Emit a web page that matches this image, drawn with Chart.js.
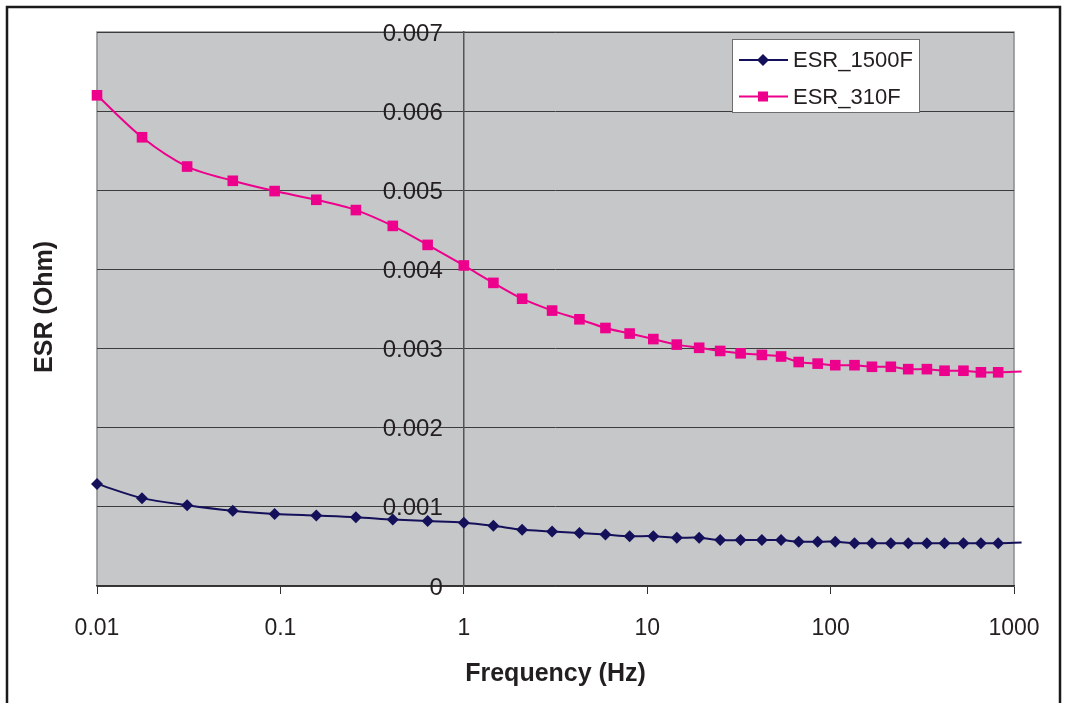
<!DOCTYPE html>
<html>
<head>
<meta charset="utf-8">
<script src="https://cdn.jsdelivr.net/npm/chart.js@4.4.1/dist/chart.umd.min.js"></script>
<style>
  html, body { margin: 0; padding: 0; background: #fff; }
  #wrap { width: 1065px; height: 703px; position: relative; }
</style>
</head>
<body>
<div id="wrap"><canvas id="esr"></canvas></div>
<script>
// frequency points (Hz), last one sits just past the axis end (line stub, no marker)
const freqs = [0.01, 0.0176, 0.031, 0.055, 0.093, 0.157, 0.258, 0.41, 0.635, 1.0,
    1.45, 2.08, 3.03, 4.27, 5.92, 8.02, 10.8, 14.5, 19.2, 25.0,
    32.3, 42.2, 53.7, 67, 85, 106, 135, 168, 213, 265,
    335, 418, 530, 660, 820, 1100];
const esr1500 = [0.00129, 0.00111, 0.00102, 0.00095, 0.00091, 0.00089, 0.00087, 0.00084, 0.00082, 0.00080,
    0.00076, 0.00071, 0.00069, 0.00067, 0.00065, 0.00063, 0.00063, 0.00061, 0.00061, 0.00058,
    0.00058, 0.00058, 0.00058, 0.00056, 0.00056, 0.00056, 0.00054, 0.00054, 0.00054, 0.00054,
    0.00054, 0.00054, 0.00054, 0.00054, 0.00054, 0.00055];
const esr310 = [0.00620, 0.00567, 0.00530, 0.00512, 0.00499, 0.00488, 0.00475, 0.00455, 0.00431, 0.00405,
    0.00383, 0.00363, 0.00348, 0.00337, 0.00326, 0.00319, 0.00312, 0.00305, 0.00301, 0.00297,
    0.00294, 0.00292, 0.00290, 0.00283, 0.00281, 0.00279, 0.00279, 0.00277, 0.00277, 0.00274,
    0.00274, 0.00272, 0.00272, 0.00270, 0.00270, 0.00271];
const seriesNames = ['ESR_1500F', 'ESR_310F'];
const xTicks = [0.01, 0.1, 1, 10, 100, 1000];
const xTickLabels = ['0.01', '0.1', '1', '10', '100', '1000'];
const yTickLabels = ['0', '0.001', '0.002', '0.003', '0.004', '0.005', '0.006', '0.007'];

const NAVY = '#14105a';
const PINK = '#ec008c';
const TEXT = '#231f20';
const FONT = '"Liberation Sans", Arial, sans-serif';
const markerCount = freqs.length - 1;

function toPoints(ys) {
    return freqs.map((f, i) => ({x: f, y: ys[i]}));
}

const frame = {
    id: 'frame',
    beforeDraw(chart) {
        const {ctx, chartArea: a} = chart;
        // y labels of an axis placed at x=1 sit flush on the axis line, push them left a bit
        const items = chart.scales.y.getLabelItems(a);
        items.forEach(it => {
            if (!it._moved) {
                it.options.translation[0] -= 21;
                it.options.translation[1] += 2;
                it._moved = true;
            }
        });
        ctx.save();
        ctx.fillStyle = '#c6c7c9';
        ctx.fillRect(a.left, a.top, a.right - a.left, a.bottom - a.top);
        ctx.strokeStyle = '#8c8c8c';
        ctx.lineWidth = 1.5;
        ctx.beginPath();
        ctx.moveTo(a.left, a.bottom);
        ctx.lineTo(a.left, a.top);
        ctx.lineTo(a.right, a.top);
        ctx.lineTo(a.right, a.bottom);
        ctx.stroke();
        ctx.strokeStyle = '#1a1a1a';
        ctx.lineWidth = 2.5;
        ctx.strokeRect(7, 7, 1053, 720);
        // y axis title
        ctx.translate(45, 307);
        ctx.rotate(-Math.PI / 2);
        ctx.fillStyle = TEXT;
        ctx.font = 'bold 25px ' + FONT;
        ctx.textAlign = 'center';
        ctx.textBaseline = 'middle';
        ctx.fillText('ESR (Ohm)', 0, 0);
        ctx.restore();
    }
};

const boxLegend = {
    id: 'boxLegend',
    afterDatasetsDraw(chart) {
        const {ctx} = chart;
        ctx.save();
        ctx.fillStyle = '#fff';
        ctx.fillRect(732, 39, 187, 73);
        ctx.strokeStyle = '#6e6e6e';
        ctx.lineWidth = 1;
        ctx.strokeRect(732.5, 39.5, 187, 73);
        ctx.font = '22px ' + FONT;
        ctx.textBaseline = 'middle';
        chart.data.datasets.forEach((ds, i) => {
            const y = 60 + i * 36.5;
            ctx.strokeStyle = ds.borderColor;
            ctx.lineWidth = 2;
            ctx.beginPath();
            ctx.moveTo(739, y);
            ctx.lineTo(788, y);
            ctx.stroke();
            ctx.fillStyle = ds.backgroundColor;
            ctx.beginPath();
            if (ds.pointStyle === 'rect') {
                ctx.rect(758, y - 5, 10, 10);
            } else {
                ctx.moveTo(763, y - 6); ctx.lineTo(769, y); ctx.lineTo(763, y + 6); ctx.lineTo(757, y);
                ctx.closePath();
            }
            ctx.fill();
            ctx.fillStyle = TEXT;
            ctx.fillText(ds.label, 793, y + 1);
        });
        ctx.restore();
    }
};

const data = {
    datasets: [{
        label: seriesNames[0],
        data: toPoints(esr1500),
        borderColor: NAVY,
        backgroundColor: NAVY,
        borderWidth: 2,
        pointStyle: 'rectRot',
        pointRadius: (c) => c.dataIndex < markerCount ? 6 : 0,
        pointBorderWidth: 0,
        tension: 0.3,
        clip: false
    }, {
        label: seriesNames[1],
        data: toPoints(esr310),
        borderColor: PINK,
        backgroundColor: PINK,
        borderWidth: 2,
        pointStyle: 'rect',
        pointRadius: (c) => c.dataIndex < markerCount ? 7.5 : 0,
        pointBorderWidth: 0,
        tension: 0.3,
        clip: false
    }]
};

const config = {
    type: 'line',
    data: data,
    options: {
        responsive: true,
        maintainAspectRatio: false,
        animation: false,
        layout: {padding: {left: 97, right: 51, top: 32, bottom: 0}},
        plugins: {legend: {display: false}, tooltip: {enabled: false}},
        scales: {
            x: {
                type: 'logarithmic',
                min: 0.01,
                max: 1000,
                afterBuildTicks: (s) => { s.ticks = xTicks.map(v => ({value: v})); },
                afterFit: (s) => { s.height = 117; },
                grid: {drawOnChartArea: false, drawTicks: true, tickLength: 8, color: '#333', lineWidth: 1},
                border: {color: '#333', width: 1.5},
                ticks: {
                    color: TEXT,
                    font: {family: FONT, size: 23},
                    padding: 21,
                    maxRotation: 0,
                    autoSkip: false,
                    callback: (v, i) => xTickLabels[i]
                },
                title: {
                    display: true,
                    text: 'Frequency (Hz)',
                    color: TEXT,
                    font: {family: FONT, size: 25, weight: 'bold'},
                    padding: {top: 0, bottom: 14}
                }
            },
            y: {
                position: {x: 1},
                min: 0,
                max: 0.007,
                ticks: {
                    stepSize: 0.001,
                    color: TEXT,
                    font: {family: FONT, size: 24},
                    callback: (v, i) => yTickLabels[i]
                },
                grid: {color: '#3c3c3c', lineWidth: 1, tickLength: 8},
                border: {color: '#555', width: 1.5}
            }
        }
    },
    plugins: [frame, boxLegend]
};

//@ts-ignore
const esrChart = new Chart(document.getElementById('esr'), config);
</script>
</body>
</html>
